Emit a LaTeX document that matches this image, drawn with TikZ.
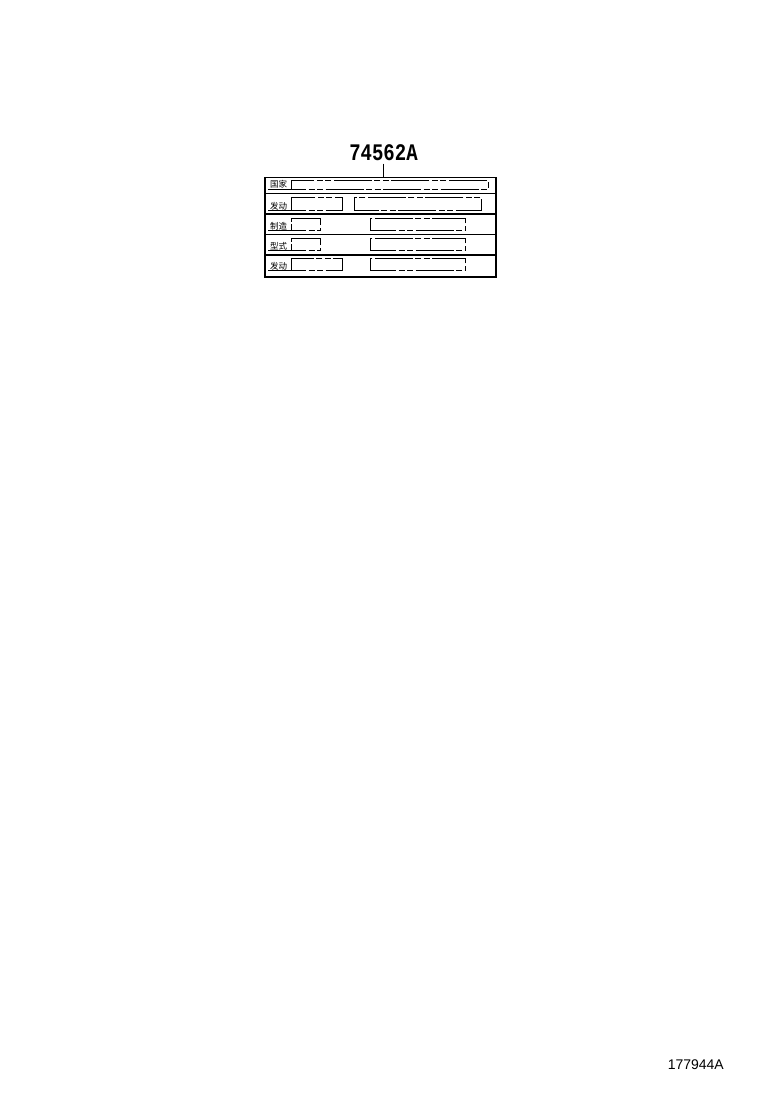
\documentclass[tikz,border=0pt]{standalone}
\usepackage{fontspec}
\setmainfont{Liberation Sans}
\newfontfamily\cjk{Noto Sans CJK SC}
\newfontfamily\codefont{Liberation Mono}
\begin{document}
\begin{tikzpicture}[x=1pt,y=-1pt,
  frame/.style={draw, line width=1.8pt, inner sep=0pt},
  sep/.style={line width=1.6pt},
  field/.style={draw, line width=1pt, dash pattern=on 38pt off 2.5pt on 6pt off 2.5pt on 6pt off 2.5pt},
  lbl/.style={font=\cjk\fontsize{8.5}{8.5}\selectfont, anchor=base west, inner sep=0pt}]
\useasboundingbox (0,0) rectangle (760,1112);
% title
\node[anchor=base, inner sep=0pt, font=\codefont\bfseries\fontsize{19}{19}\selectfont] (title) at (383.5,160.7) {\scalebox{1}[1.25]{74562A}};
% frame
\node[frame, minimum width=231pt, minimum height=99.5pt, anchor=north west] (frame) at (264,176.5) {};
\draw[line width=1pt] ([yshift=-3pt]title.base) -- (title.base |- frame.north);
\foreach \yy in {193.5,214,234.5,255}{
  \draw[sep] (frame.west |- 0,\yy) -- (frame.east |- 0,\yy);
}
% row 1
\node[lbl] (l1) at (270,187.8) {国家};
\draw[field] (268,189.3) -- (488,189.3) -- (488,180.7) -- (291.7,180.7) -- (291.7,189.3);
% row 2
\node[lbl] (l2) at (270,209) {发动};
\draw[field] (268,210.7) -- (342.3,210.7) -- (342.3,197.3) -- (291.7,197.3) -- (291.7,210.7);
\draw[field] (354.3,197.3) rectangle (481.7,210.7);
% row 3
\node[lbl] (l3) at (270,229) {制造};
\draw[field] (268,230.7) -- (320,230.7) -- (320,218.7) -- (291.7,218.7) -- (291.7,230.7);
\draw[field] (370,218.7) rectangle (465.7,230.7);
% row 4
\node[lbl] (l4) at (270,249) {型式};
\draw[field] (268,250.7) -- (320,250.7) -- (320,238.7) -- (291.7,238.7) -- (291.7,250.7);
\draw[field] (370,238.7) rectangle (465.7,250.7);
% row 5
\node[lbl] (l5) at (270,269) {发动};
\draw[field] (268,270.7) -- (342.3,270.7) -- (342.3,258.7) -- (291.7,258.7) -- (291.7,270.7);
\draw[field] (370,258.7) rectangle (465.7,270.7);
% footer code
\node[anchor=base east, inner sep=0pt, font=\fontsize{14}{14}\selectfont] (code) at (724,1069.5) {177944A};
\end{tikzpicture}
\end{document}
